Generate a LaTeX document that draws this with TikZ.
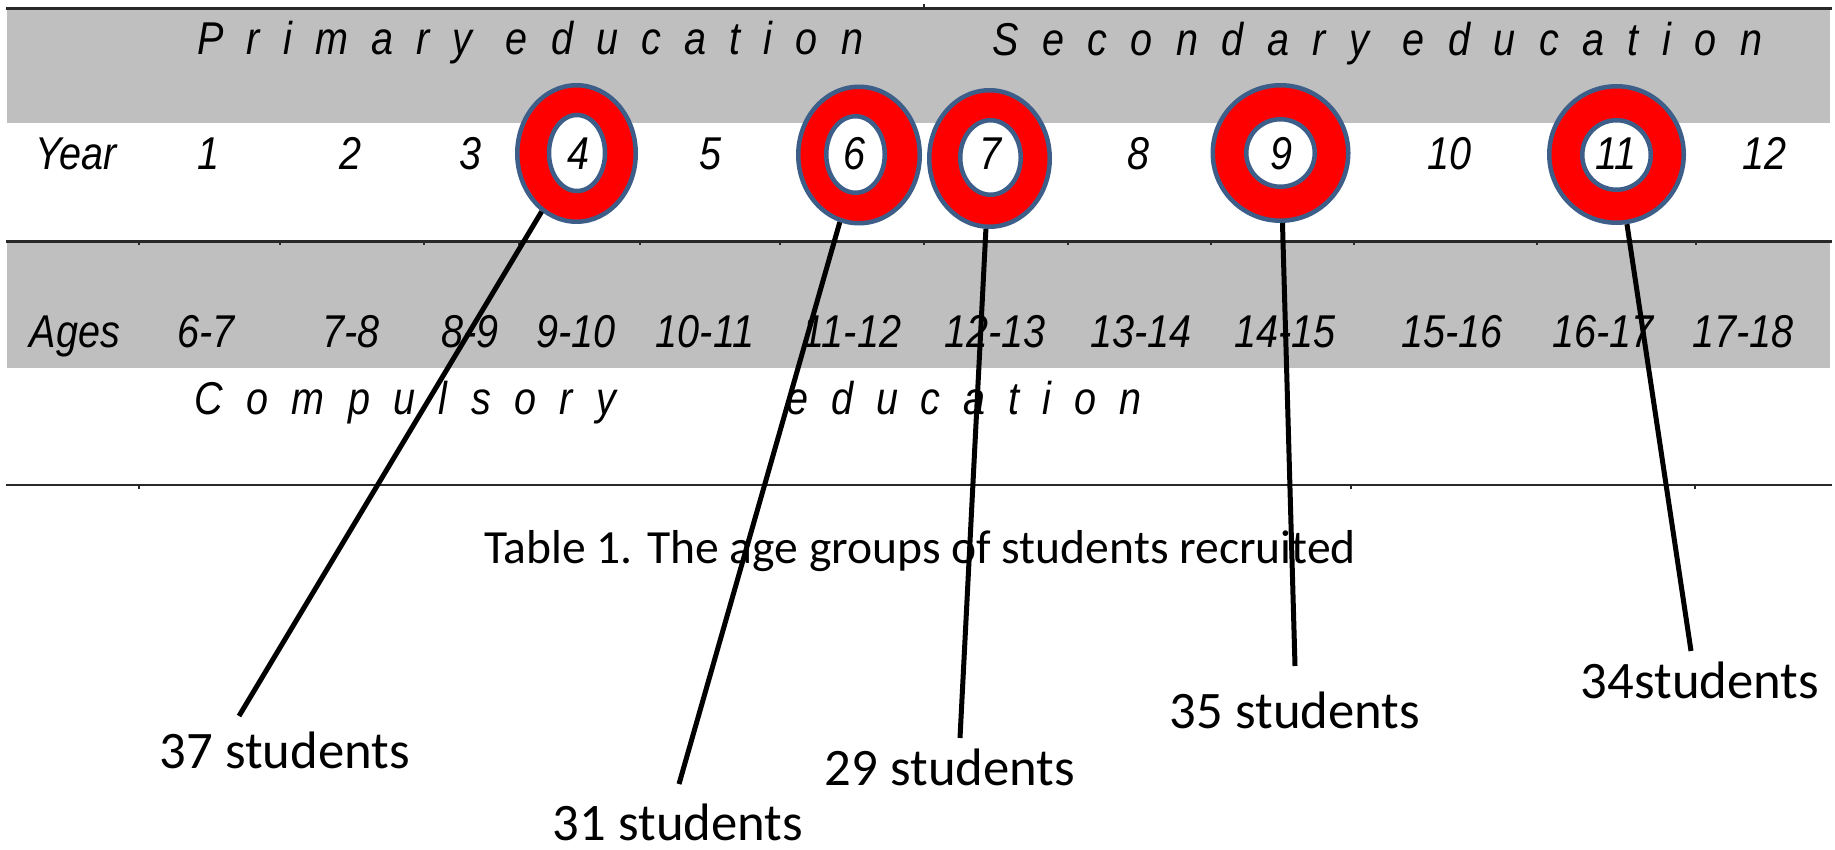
\documentclass[tikz,border=0pt]{standalone}
\usepackage{fontspec}
\usetikzlibrary{shapes.geometric}
\newfontfamily\tabfont[FakeStretch=0.86]{Liberation Sans}
\newfontfamily\capfont{Carlito}
\definecolor{bandgray}{RGB}{191,191,191}
\definecolor{ringblue}{RGB}{62,94,138}
\definecolor{ringred}{RGB}{255,0,0}
\definecolor{rulegray}{RGB}{40,40,40}

\begin{document}
\begin{tikzpicture}[x=1pt,y=-1pt,
  cell/.style={anchor=base,inner sep=0pt,font=\tabfont\itshape\fontsize{46}{52}\selectfont},
  spread/.style={anchor=base west,inner sep=0pt,font=\tabfont\itshape\fontsize{46}{52}\selectfont},
  outerring/.style={ellipse,draw=ringblue,line width=4.5pt,fill=ringred,inner sep=0pt,outer sep=2.25pt},
  innerring/.style={ellipse,draw=ringblue,line width=4.5pt,fill=white,inner sep=0pt},
  countlabel/.style={anchor=base,inner sep=0pt,font=\capfont\fontsize{52.7}{60}\selectfont},
  leader/.style={line width=5pt,black},
  tabrule/.style={line width=2.2pt,rulegray},
  tick/.style={line width=1.6pt,rulegray},
]
\useasboundingbox (0,0) rectangle (1835,850);

% shaded header bands
\fill[bandgray] (7,10) rectangle (1830,123);
\fill[bandgray] (7,243) rectangle (1830,368);

% table rules and their small ticks
\draw[tabrule] (6,8.5) -- (1832,8.5);
\draw[tabrule] (6,241.5) -- (1832,241.5);
\draw[tabrule] (6,485) -- (1832,485);
\draw[tick] (924,8.5) -- (924,4);
\foreach \t in {139,280,424,519,640,780,924,1068,1211,1354,1537,1696}
  \draw[tick] (\t,241.5) -- (\t,245.5);
\foreach \t in {139,1351,1695}
  \draw[tick] (\t,485) -- (\t,489);

% spaced headings
\node[spread] (prim) at (197,55) {\hbox to 666pt{P\hfil r\hfil i\hfil m\hfil a\hfil r\hfil y\hfil\hskip10pt e\hfil d\hfil u\hfil c\hfil a\hfil t\hfil i\hfil o\hfil n}};
\node[spread] (sec) at (992,56) {\hbox to 770pt{S\hfil e\hfil c\hfil o\hfil n\hfil d\hfil a\hfil r\hfil y\hfil\hskip10pt e\hfil d\hfil u\hfil c\hfil a\hfil t\hfil i\hfil o\hfil n}};
\node[spread] (comp) at (194,414) {\hbox to 422pt{C\hfil o\hfil m\hfil p\hfil u\hfil l\hfil s\hfil o\hfil r\hfil y}};
\node[spread] (edu) at (786,414) {\hbox to 355pt{e\hfil d\hfil u\hfil c\hfil a\hfil t\hfil i\hfil o\hfil n}};

% year row (circled years are added after the rings)
\node[cell] (year) at (76,170) {Year};
\node[cell] (y1) at (208,170) {1};
\node[cell] (y2) at (350,170) {2};
\node[cell] (y3) at (470,170) {3};
\node[cell] (y5) at (710,170) {5};
\node[cell] (y8) at (1138,170) {8};
\node[cell] (y10) at (1449,170) {10};
\node[cell] (y12) at (1764,170) {12};

% ages row
\node[cell] (ages) at (75,347) {Ages};
\node[cell] (a1) at (206,347) {6-7};
\node[cell] (a2) at (351,347) {7-8};
\node[cell] (a3) at (470,347) {8-9};
\node[cell] (a4) at (576,347) {9-10};
\node[cell] (a5) at (705,347) {10-11};
\node[cell] (a6) at (852,347) {11-12};
\node[cell] (a7) at (995,347) {12-13};
\node[cell] (a8) at (1141,347) {13-14};
\node[cell] (a9) at (1285,347) {14-15};
\node[cell] (a10) at (1452,347) {15-16};
\node[cell] (a11) at (1603,347) {16-17};
\node[cell] (a12) at (1743,347) {17-18};

% caption
\node[countlabel,font=\capfont\fontsize{47.6}{54}\selectfont] (caption) at (920,563) {Table 1. The age groups of students recruited};

% outer rings
\node[outerring,minimum width=118.5pt,minimum height=136.5pt] (r4) at (576.5,153.5) {};
\node[outerring,minimum width=121.5pt,minimum height=136.5pt] (r6) at (859,155) {};
\node[outerring,minimum width=120.5pt,minimum height=136.5pt] (r7) at (989.5,158.5) {};
\node[outerring,minimum width=135.5pt,minimum height=135.5pt] (r9) at (1280.5,153) {};
\node[outerring,minimum width=134.5pt,minimum height=136.5pt] (r11) at (1616.5,154.5) {};

% free ends of the leaders
\coordinate (e4) at (239,716);
\coordinate (e6) at (679,784);
\coordinate (e7) at (960,738);
\coordinate (e9) at (1295,666);
\coordinate (e11) at (1691,651);

\draw[leader] (r4) -- (e4);
\draw[leader] (r6) -- (e6);
\draw[leader] (r7) -- (e7);
\draw[leader] (r9) -- (e9);
\draw[leader] (r11) -- (e11);

% inner rings
\node[innerring,minimum width=56pt,minimum height=76pt] (r4i) at (577,153) {};
\node[innerring,minimum width=58.5pt,minimum height=76.5pt] (r6i) at (855.5,154.5) {};
\node[innerring,minimum width=60.5pt,minimum height=74.5pt] (r7i) at (990.5,157.5) {};
\node[innerring,minimum width=68.5pt,minimum height=67.5pt] (r9i) at (1280.5,153) {};
\node[innerring,minimum width=68.5pt,minimum height=69.5pt] (r11i) at (1616.5,155) {};

% circled years
\node[cell] (y4) at (578,170) {4};
\node[cell] (y6) at (854,170) {6};
\node[cell] (y7) at (990,170) {7};
\node[cell] (y9) at (1281,170) {9};
\node[cell] (y11) at (1616,170) {11};

% student counts
\node[countlabel] (n37) at (285,768) {37 students};
\node[countlabel] (n31) at (678,840) {31 students};
\node[countlabel] (n29) at (950,785) {29 students};
\node[countlabel] (n35) at (1295,728) {35 students};
\node[countlabel] (n34) at (1700,698) {34students};
\end{tikzpicture}
\end{document}
